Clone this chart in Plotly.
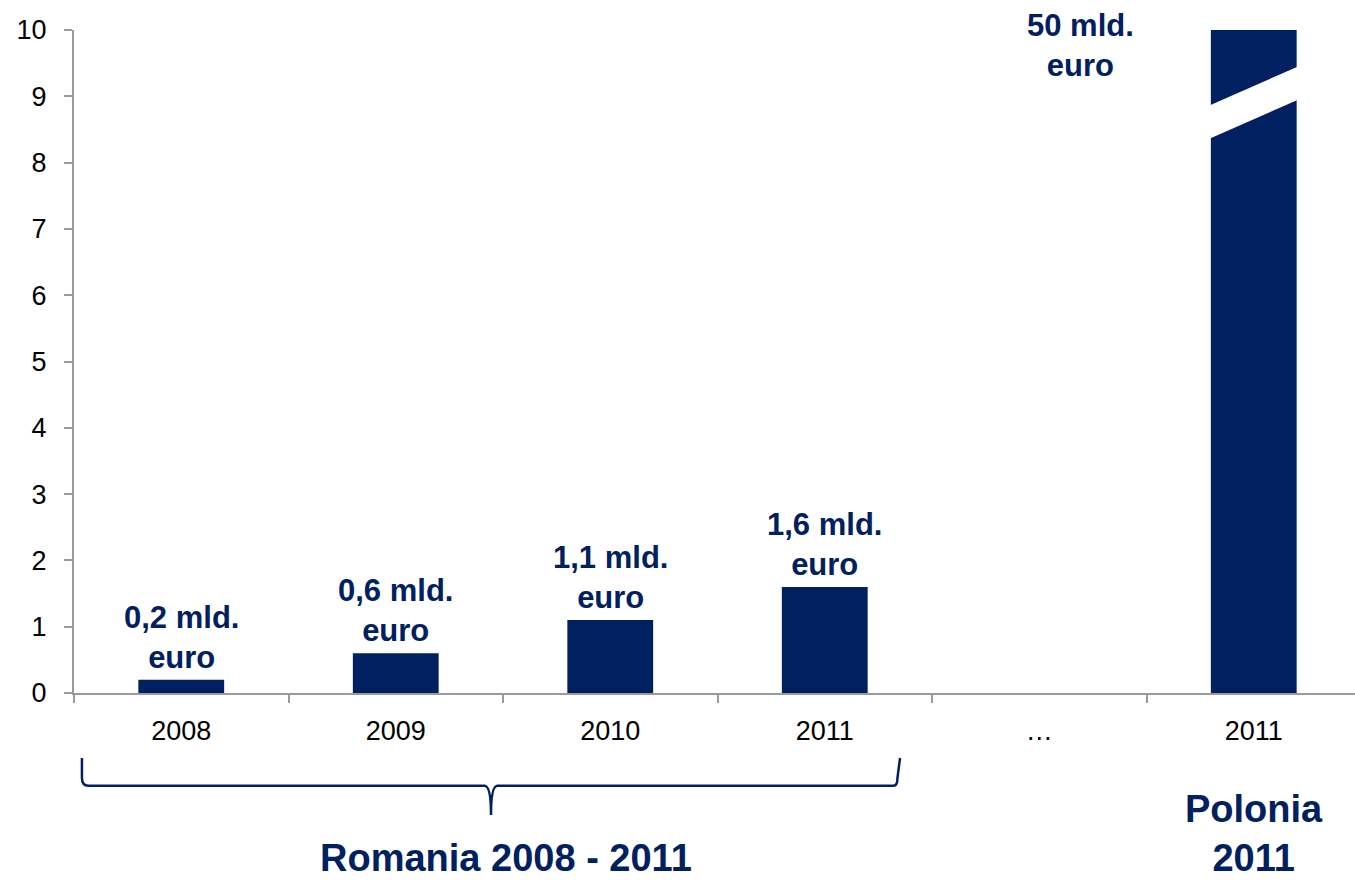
import plotly.graph_objects as go

# Investment volumes, billion euro
categories = ["2008", "2009", "2010", "2011", "…", "2011"]
values = [0.2, 0.6, 1.1, 1.6, None, 50]
value_labels = ["0,2 mld.<br>euro", "0,6 mld.<br>euro", "1,1 mld.<br>euro",
                "1,6 mld.<br>euro", None, "50 mld.<br>euro"]
y_ticks = list(range(0, 11))

NAVY = "#002060"
AXIS_GREY = "#9a9a9a"
FONT = "Liberation Sans, Arial, sans-serif"
BAR_WIDTH = 0.4
Y_MAX = 10

x_pos = list(range(len(categories)))

fig = go.Figure()
fig.add_trace(go.Bar(
    x=x_pos, y=values, width=BAR_WIDTH,
    marker=dict(color=NAVY, line=dict(width=0)),
    hoverinfo="skip",
))

# value labels above the bars that fit inside the axis range
for xi, v, lab in zip(x_pos, values, value_labels):
    if v is None or lab is None:
        continue
    bold = "<b>" + lab.replace("<br>", "</b><br><b>") + "</b>"
    if v <= Y_MAX:
        fig.add_annotation(x=xi, y=v, text=bold, showarrow=False,
                           yanchor="bottom", yshift=3,
                           font=dict(family=FONT, size=31, color=NAVY))
    else:
        # off-scale bar: label placed to its upper left
        fig.add_annotation(x=xi - 0.81, y=Y_MAX - 0.23, text=bold, showarrow=False,
                           yanchor="middle",
                           font=dict(family=FONT, size=31, color=NAVY))
        # axis break drawn as a white slanted band across the bar
        x0 = xi - BAR_WIDTH / 2 - 0.02
        x1 = xi + BAR_WIDTH / 2 + 0.02
        low_left, rise, gap = 8.37, 0.57, 0.5
        slope = rise / BAR_WIDTH
        yl = low_left - 0.02 * slope
        yr = low_left + rise + 0.02 * slope
        fig.add_shape(type="path",
                      path=f"M {x0},{yl} L {x1},{yr} L {x1},{yr + gap} L {x0},{yl + gap} Z",
                      xref="x", yref="y", fillcolor="white", line=dict(width=0))

# curly brace grouping the Romanian years
bx0, bx1, bxc = -0.463, 3.351, 1.444
ytop, ymid, ybot = -0.098, -0.140, -0.184
r = 0.03
ry = 0.012
brace = (f"M {bx0},{ytop} L {bx0},{ymid + ry} Q {bx0},{ymid} {bx0 + r},{ymid} "
         f"L {bxc - r},{ymid} Q {bxc},{ymid} {bxc},{ybot} "
         f"Q {bxc},{ymid} {bxc + r},{ymid} "
         f"L {bx1 - r},{ymid} Q {bx1 - 0.012},{ymid} {bx1 - 0.012},{ymid + ry} L {bx1},{ytop}")
fig.add_shape(type="path", path=brace, xref="x", yref="paper",
              line=dict(color=NAVY, width=2.5))

# group captions, kept fully inside the bottom edge
fig.add_annotation(x=1.514, y=0, xref="x", yref="paper", yshift=-188,
                   text="<b>Romania 2008 - 2011</b>",
                   showarrow=False, yanchor="bottom",
                   font=dict(family=FONT, size=38, color=NAVY))
fig.add_annotation(x=5.0, y=0, xref="x", yref="paper", yshift=-188,
                   text="<b>Polonia<br>2011</b>",
                   showarrow=False, yanchor="bottom",
                   font=dict(family=FONT, size=38, color=NAVY))

fig.update_layout(
    width=1355, height=880,
    margin=dict(l=74, r=0, t=30, b=187),
    plot_bgcolor="white", paper_bgcolor="white",
    showlegend=False,
)
fig.update_xaxes(
    range=[-0.5, 5.472],
    tickmode="array", tickvals=x_pos, ticktext=categories,
    ticks="", showgrid=False, zeroline=False,
    showline=True, linecolor=AXIS_GREY, linewidth=2,
    tickfont=dict(family=FONT, size=27, color="black"),
    ticklabelstandoff=13,
    minor=dict(tickmode="linear", tick0=-0.5, dtick=1, ticks="outside",
               ticklen=8, tickwidth=2, tickcolor=AXIS_GREY, showgrid=False),
)
fig.update_yaxes(
    range=[0, Y_MAX], tickmode="array", tickvals=y_ticks,
    ticks="outside", ticklen=8, tickwidth=2, tickcolor=AXIS_GREY,
    showgrid=False, zeroline=False,
    showline=True, linecolor=AXIS_GREY, linewidth=2,
    tickfont=dict(family=FONT, size=27, color="black"),
    ticklabelstandoff=12,
)

fig.write_html("out.html")
